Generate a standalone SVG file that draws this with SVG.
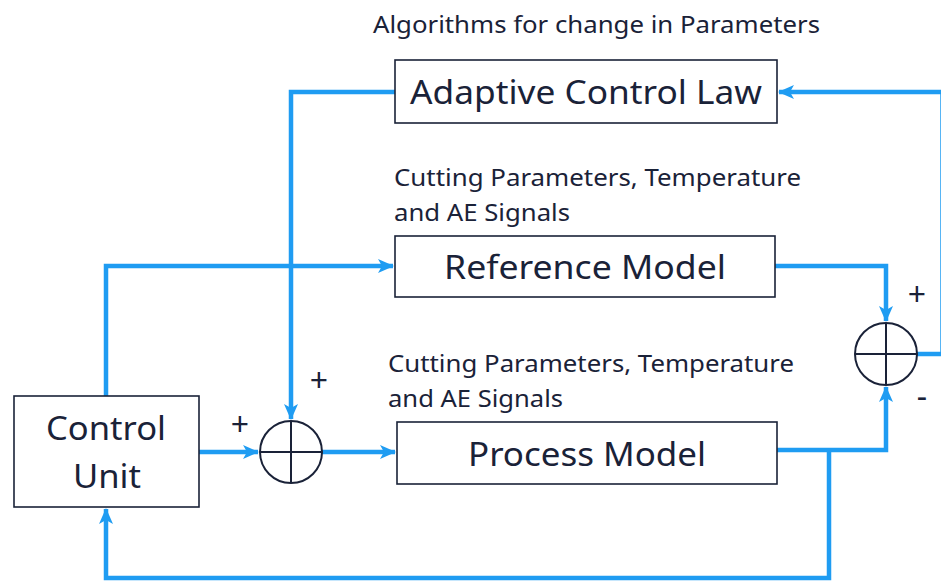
<svg xmlns="http://www.w3.org/2000/svg" width="941" height="582" viewBox="0 0 941 582">
<defs>
<marker id="ahb" markerWidth="16" markerHeight="14" refX="15" refY="7" orient="auto" markerUnits="userSpaceOnUse" viewBox="0 0 16 14">
<path d="M0,0 L16,7 L0,14 L4,7 Z" fill="#1F9CF2"/>
</marker>
<style>
.box{fill:#fff;stroke:#1a2238;stroke-width:1.6}
.sum{fill:none;stroke:#1a2238;stroke-width:2}
.t{font-family:"Noto Sans","Open Sans","Liberation Sans",sans-serif;fill:#1a2238}
.big{font-size:33px}
.sm{font-size:23px}
.pm{font-size:32px}
.c{fill:none;stroke:#1F9CF2;stroke-width:4.5}
</style>
</defs>
<rect width="941" height="582" fill="#fff"/>
<g id="connectors">
<path class="c" d="M395,92 H291 V419" marker-end="url(#ahb)"/>
<path class="c" d="M943,92 H779" marker-end="url(#ahb)"/>
<path class="c" d="M942.5,92 V354"/>
<path class="c" d="M106,396 V266 H393" marker-end="url(#ahb)"/>
<path class="c" d="M199,452 H258" marker-end="url(#ahb)"/>
<path class="c" d="M322,452 H395" marker-end="url(#ahb)"/>
<path class="c" d="M775,266 H886 V321" marker-end="url(#ahb)"/>
<path class="c" d="M777,450 H886 V387" marker-end="url(#ahb)"/>
<path class="c" d="M917,354 H943"/>
<path class="c" d="M829,450 V578 H106 V509" marker-end="url(#ahb)"/>
</g>
<g id="adaptive">
<rect class="box" x="395" y="60" width="382" height="63"/>
<text class="t big" x="586" y="104" text-anchor="middle" textLength="352" lengthAdjust="spacingAndGlyphs">Adaptive Control Law</text>
</g>
<g id="reference">
<rect class="box" x="395" y="236" width="380" height="61"/>
<text class="t big" x="585" y="279" text-anchor="middle" textLength="282" lengthAdjust="spacingAndGlyphs">Reference Model</text>
</g>
<g id="process">
<rect class="box" x="397" y="422" width="380" height="62"/>
<text class="t big" x="587" y="466" text-anchor="middle" textLength="238" lengthAdjust="spacingAndGlyphs">Process Model</text>
</g>
<g id="control">
<rect class="box" x="14" y="396" width="185" height="111"/>
<text class="t big" x="106" y="440" text-anchor="middle" textLength="120" lengthAdjust="spacingAndGlyphs">Control</text>
<text class="t big" x="107" y="488" text-anchor="middle" textLength="68" lengthAdjust="spacingAndGlyphs">Unit</text>
</g>
<g id="sum1">
<circle class="sum" cx="291" cy="452" r="31"/>
<path class="sum" d="M260,452 H322 M291,421 V483"/>
</g>
<g id="sum2">
<circle class="sum" cx="886" cy="354" r="31"/>
<path class="sum" d="M855,354 H917 M886,323 V385"/>
</g>
<g id="labels">
<text class="t sm" x="373" y="33" textLength="447" lengthAdjust="spacingAndGlyphs">Algorithms for change in Parameters</text>
<text class="t sm" x="394" y="186" textLength="407" lengthAdjust="spacingAndGlyphs">Cutting Parameters, Temperature</text>
<text class="t sm" x="394" y="221" textLength="176" lengthAdjust="spacingAndGlyphs">and AE Signals</text>
<text class="t sm" x="388" y="372" textLength="406" lengthAdjust="spacingAndGlyphs">Cutting Parameters, Temperature</text>
<text class="t sm" x="388" y="407" textLength="175" lengthAdjust="spacingAndGlyphs">and AE Signals</text>
<text class="t pm" x="240" y="436" text-anchor="middle">+</text>
<text class="t pm" x="319" y="392" text-anchor="middle">+</text>
<text class="t pm" x="917" y="306" text-anchor="middle">+</text>
<text class="t pm" x="922" y="408" text-anchor="middle">-</text>
</g>
</svg>
